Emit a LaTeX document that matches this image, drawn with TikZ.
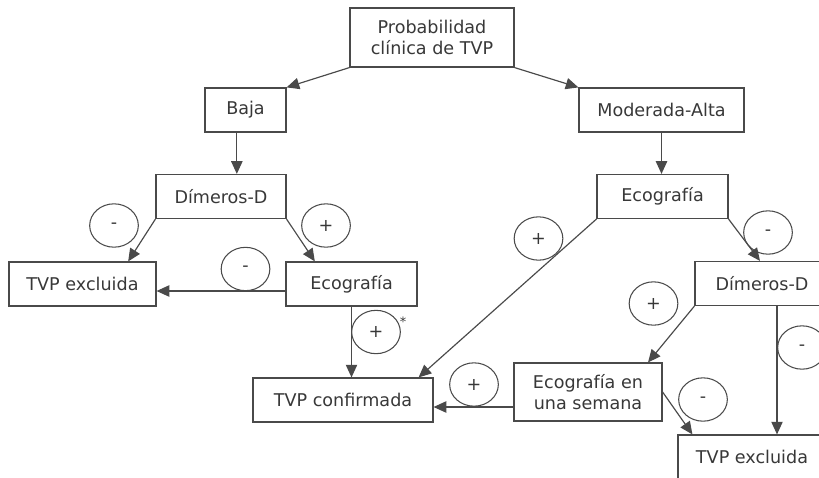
\documentclass[tikz,border=0pt]{standalone}
\usepackage{fontspec}
\setmainfont{DejaVu Sans}
\definecolor{dxink}{HTML}{383838}
\definecolor{dxwire}{HTML}{4A4A4A}
\usetikzlibrary{arrows.meta,positioning,shapes.geometric,calc}

\begin{document}
\begin{tikzpicture}[x=0.03cm,y=-0.03cm,
    font=\fontsize{15}{18.5}\selectfont,
    dxbox/.style={draw=dxwire,line width=1pt,text=dxink,inner sep=0pt,
                  minimum height=1.32cm,align=center},
    dxsign/.style={draw=dxwire,line width=0.9pt,text=dxink,ellipse,inner sep=0pt,
                   minimum width=1.46cm,minimum height=1.30cm},
    dxarrow/.style={draw=dxwire,line width=1pt,
                    -{Triangle[length=0.38cm,width=0.34cm]}}]
  \useasboundingbox (0,0) rectangle (819,477);
  \clip (0,0) rectangle (819,477);

  %% Top and risk level
  \node[dxbox,minimum width=4.92cm,minimum height=1.77cm] (prob) at (432,37.5)
        {Probabilidad\\clínica de TVP};
  \node[dxbox,minimum width=2.43cm] (baja) at (245.5,110) {Baja};
  \node[dxbox,minimum width=4.95cm] (moda) at (661.5,110) {Moderada-Alta};

  %% Left branch (low probability)
  \node[dxbox,minimum width=3.9cm] (dimL) at (221,196.5) {Dímeros-D};
  \node[dxbox,minimum width=4.41cm] (exclL) at (82.5,284) {TVP excluida};
  \node[dxbox,minimum width=3.93cm] (ecoL) at (351.5,284) {Ecografía};
  \node[dxbox,minimum width=5.4cm] (conf) at (343,400) {TVP confirmada};

  %% Right branch (moderate-high probability)
  \node[dxbox,minimum width=3.93cm] (ecoR) at (662.5,196.5) {Ecografía};
  \node[dxbox,minimum width=4.02cm] (dimR) at (762,283.5) {Dímeros-D};
  \node[dxbox,minimum width=4.44cm,minimum height=1.74cm] (sem) at (588,392)
        {Ecografía en\\una semana};
  \node[dxbox,minimum width=4.44cm] (exclR) at (752,457) {TVP excluida};

  %% Result signs
  \node[dxsign] (sgA) at (114,225.5) {-};
  \node[dxsign] (sgB) at (326,225.5) {+};
  \node[dxsign] (sgC) at (245.5,269) {-};
  \node[dxsign] (sgD) at (376,332) {+};
  \node[text=dxink,font=\fontsize{11}{11}\selectfont] (star) at (403,322) {*};
  \node[dxsign] (sgE) at (538.5,238.5) {+};
  \node[dxsign] (sgF) at (768,232.5) {-};
  \node[dxsign] (sgG) at (653.5,303.5) {+};
  \node[dxsign] (sgH) at (802,347.5) {-};
  \node[dxsign] (sgI) at (474,384.5) {+};
  \node[dxsign] (sgJ) at (703,399.5) {-};

  %% Connectors
  \draw[dxarrow] (prob.south west) -- (baja.north east);
  \draw[dxarrow] (prob.south east) -- (moda.north west);
  \draw[dxarrow] ([xshift=-0.26cm]baja.south) -- ([xshift=-0.26cm]baja.south |- dimL.north);
  \draw[dxarrow] (moda.south) -- (moda.south |- ecoR.north);

  \draw[dxarrow] (dimL.south west) -- ([xshift=1.37cm]exclL.north);
  \draw[dxarrow] (dimL.south east) -- ([xshift=-1.1cm]ecoL.north);
  \draw[dxarrow] ([yshift=-0.21cm]ecoL.west) -- ([yshift=-0.21cm]ecoL.west -| exclL.east);
  \draw[dxarrow] (ecoL.south) -- (ecoL.south |- conf.north);

  \draw[dxarrow] (ecoR.south west) -- ([xshift=-0.45cm]conf.north east);
  \draw[dxarrow] (ecoR.south east) -- ([xshift=-0.06cm]dimR.north);
  \draw[dxarrow] (dimR.south west) -- ([xshift=1.8cm]sem.north);
  \draw[dxarrow] ([xshift=0.45cm]dimR.south) -- ([xshift=0.45cm]dimR.south |- exclR.north);
  \draw[dxarrow] ([yshift=-0.45cm]sem.west) -- ([yshift=-0.45cm]sem.west -| conf.east);
  \draw[dxarrow] (sem.east) -- ([xshift=0.45cm]exclR.north west);
\end{tikzpicture}
\end{document}
